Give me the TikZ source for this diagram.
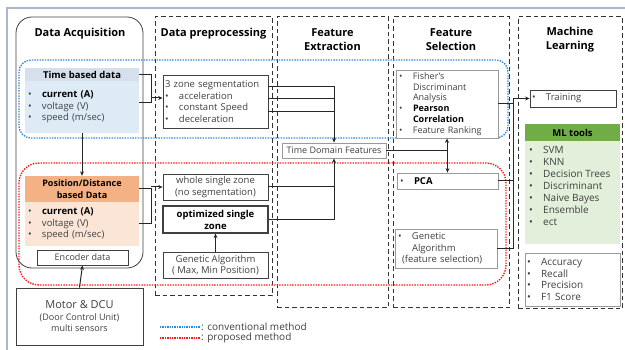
\documentclass[tikz,border=0pt]{standalone}
\usepackage{fontspec}
\setmainfont{Open Sans}
\usetikzlibrary{arrows.meta,calc}
\definecolor{framec}{HTML}{A9B7CC}
\definecolor{convc}{HTML}{2E86DE}
\definecolor{propc}{HTML}{FF1A1A}
\definecolor{timehd}{HTML}{D6DFEC}
\definecolor{timebd}{HTML}{DEEBF7}
\definecolor{poshd}{HTML}{F4B183}
\definecolor{posbd}{HTML}{FBE5D6}
\definecolor{mlhd}{HTML}{70AD47}
\definecolor{mlbd}{HTML}{E2EFDA}
\definecolor{txt}{HTML}{404040}
\newcommand\bul{\makebox[14pt][l]{•}}
\newcommand\fsz[2]{\fontsize{#1}{#2}\selectfont}

\begin{document}
\begin{tikzpicture}[x=1pt,y=-1pt,
  colbox/.style={draw=black!80, line width=1pt, dash pattern=on 4.5pt off 3pt, minimum width=#1},
  box/.style={draw=black!75, line width=0.8pt, fill=white, text=txt, inner sep=0pt},
  graybox/.style={draw=black!40, line width=0.8pt, fill=white, text=txt, inner sep=0pt},
  fillbox/.style={fill=#1, inner sep=0pt},
  conn/.style={line width=1pt, draw=black!85},
  arr/.style={conn, -{Stealth[length=4.5pt,width=4pt]}},
  conv/.style={draw=convc, line width=1.4pt, dash pattern=on 1.4pt off 1.2pt, rounded corners=12pt},
  prop/.style={draw=propc, line width=1.4pt, dash pattern=on 1.4pt off 1.2pt, rounded corners=20pt},
  title/.style={font=\fsz{11}{14}\bfseries, align=center, inner sep=0pt},
  lst/.style={align=left, font=\fsz{9.5}{11.6}, text=txt}
]
\useasboundingbox (0,0) rectangle (625,350);

% outer frame
\draw[framec, line width=1.2pt] (7,350) -- (7,8) -- (625,8);

% stage columns
\node[draw=black!75, line width=0.8pt, rounded corners=16pt, minimum width=127, minimum height=251] (da) at (79.5,142.5) {};
\node[colbox=117, minimum height=279] (dp) at (213.5,156.5) {};
\node[colbox=111, minimum height=291] (fe) at (332.5,162.5) {};
\node[colbox=116, minimum height=291] (fs) at (451,162.5) {};
\node[colbox=104, minimum height=292] (ml) at (570,163) {};

\node[title] (tda) at (80,34) {Data Acquisition};
\node[title] (tdp) at (213.5,34) {Data preprocessing};
\node[title] (tfe) at (332.5,40) {Feature\\Extraction};
\node[title] (tfs) at (451,40) {Feature\\Selection};
\node[title] (tml) at (570,40) {Machine\\Learning};

% method regions
\draw[conv] (19,60) rectangle (508,138);
\draw[prop] (19,163) rectangle (506,285);

% data acquisition
\node[fillbox=timehd, minimum width=114, minimum height=14, font=\fsz{9.5}{12}\bfseries] (th) at (82,75) {Time based data};
\node[fillbox=timebd, minimum width=114, minimum height=52, text width=108, inner xsep=3pt, lst] (tb) at (82,107)
  {\bul\textbf{\color{black}current (A)}\\ \bul voltage (V)\\ \bul speed (m/sec)};
\node[fillbox=poshd, minimum width=114, minimum height=26, font=\fsz{9}{11.5}\bfseries, align=center] (ph) at (82,189) {Position/Distance\\based Data};
\node[fillbox=posbd, minimum width=114, minimum height=44, text width=108, inner xsep=3pt, lst] (pb) at (82,224)
  {\bul\textbf{\color{black}current (A)}\\ \bul voltage (V)\\ \bul speed (m/sec)};
\node[box, minimum width=91, minimum height=15, font=\fsz{9}{11}] (enc) at (82.5,257.5) {Encoder data};
\node[box, minimum width=127, minimum height=57, align=center, font=\fsz{9}{11.5}] (motor) at (79.5,316.5)
  {{\fsz{11}{12}Motor \& DCU}\\(Door Control Unit)\\multi sensors};

\draw[arr] (tb.south) -- (ph.north);
\draw[arr] (motor.north) -- (enc.south);

% preprocessing
\node[box, minimum width=105, minimum height=53, text width=101, inner xsep=2pt, lst, font=\fsz{9.5}{11.7}] (z3) at (215.5,101.5)
  {3 zone segmentation\\ \bul acceleration\\ \bul constant Speed\\ \bul deceleration};
\node[box, minimum width=105, minimum height=26, align=center, font=\fsz{9.5}{11.5}] (ws) at (215.5,187) {whole single zone\\(no segmentation)};
\node[box, line width=1.3pt, minimum width=105, minimum height=27, align=center, font=\fsz{9.5}{12}\bfseries, text=black] (os) at (215.5,219.5) {optimized single\\zone};
\node[box, minimum width=105, minimum height=26, align=center, font=\fsz{9.5}{11.5}] (ga) at (215.5,265) {Genetic Algorithm\\( Max, Min Position)};
\draw[arr] (ga.north) -- (os.south);

\coordinate (jA) at (151,98);
\coordinate (jB) at (151,187);
\draw[conn] (th.east) -- (th.east -| jA) -- ([yshift=4pt]tb.east -| jA) -- ([yshift=4pt]tb.east);
\draw[arr] (jA) -- (jA -| z3.west);
\draw[conn] (ph.east) -- (ph.east -| jB) -- (pb.east -| jB) -- (pb.east);
\draw[arr] (jB) -- (ws.west);

% feature extraction
\node[graybox, minimum width=104, minimum height=15, font=\fsz{9}{11}] (tdf) at (334,150.5) {Time Domain Features};
\draw[arr] ([yshift=-12pt]z3.north east) -| (tdf.north);
\draw[conn] ([yshift=-24pt]z3.north east) -- ([yshift=-24pt]z3.north east -| tdf.north);
\draw[conn] ([yshift=-37pt]z3.north east) -- ([yshift=-37pt]z3.north east -| tdf.north);
\draw[arr] (os.east) -| (tdf.south);
\draw[conn] (ws.east) -- (ws.east -| tdf.south);

% feature selection
\node[graybox, minimum width=102, minimum height=68, text width=96, inner xsep=3pt, lst, font=\fsz{9}{10.8}] (fisher) at (447,104)
  {\bul Fisher's\\ \hspace*{14pt}Discriminant\\ \hspace*{14pt}Analysis\\ \bul\textbf{\color{black}Pearson}\\ \hspace*{14pt}\textbf{\color{black}Correlation}\\ \bul Feature Ranking};
\node[graybox, minimum width=101, minimum height=16, text width=95, inner xsep=3pt, lst] (pca) at (447.5,181) {\bul\textbf{\color{black}PCA}};
\node[graybox, minimum width=102, minimum height=39, text width=96, inner xsep=3pt, lst, font=\fsz{9.5}{11.5}] (gaf) at (446,248.5)
  {\bul Genetic\\ \hspace*{14pt}Algorithm\\ \hspace*{4pt}(feature selection)};
\draw[arr] (tdf.east) -| (fisher.south);
\draw[arr] (tdf.east) -| (pca.north);

% machine learning
\node[box, minimum width=86, minimum height=17, text width=82, inner xsep=2pt, lst] (train) at (573,98.5) {\bul Training};
\node[fillbox=mlhd, minimum width=95, minimum height=17, font=\fsz{9.5}{12}\bfseries] (mlh) at (572.5,132.5) {ML tools};
\node[fillbox=mlbd, minimum width=95, minimum height=103] (mlb) at (572.5,192.5) {};
\node[lst, font=\fsz{10}{12}, anchor=north west, inner sep=0pt, text=txt] (mll) at (529,146)
  {\bul SVM\\ \bul KNN\\ \bul Decision Trees\\ \bul Discriminant\\ \bul Naive Bayes\\ \bul Ensemble\\ \bul ect};
\node[graybox, minimum width=95, minimum height=53, text width=91, inner xsep=2pt, lst, font=\fsz{10}{11.5}] (eval) at (572.5,279.5)
  {\bul Accuracy\\ \bul Recall\\ \bul Precision\\ \bul F1 Score};

\coordinate (jE) at (513,98.5);
\draw[conn] (fisher.east) -- (fisher.east -| jE);
\draw[conn] (pca.east) -- (pca.east -| jE);
\draw[conn] (gaf.east) -- (gaf.east -| jE) -- (jE);
\draw[arr] (jE) -- (train.west);

% legend
\coordinate (lc1) at (160,327);
\coordinate (lc2) at (200,327);
\coordinate (lp1) at (160,338);
\coordinate (lp2) at (200,338);
\draw[draw=convc, line width=1.3pt, dash pattern=on 1.3pt off 1.1pt] (lc1) -- (lc2);
\draw[draw=propc, line width=1.3pt, dash pattern=on 1.3pt off 1.1pt] (lp1) -- (lp2);
\node[anchor=west, inner sep=1pt, font=\fsz{10}{12}, text=txt] (lgc) at (lc2) {: conventional method};
\node[anchor=west, inner sep=1pt, font=\fsz{10}{12}, text=txt] (lgp) at (lp2) {: proposed method};
\end{tikzpicture}
\end{document}
